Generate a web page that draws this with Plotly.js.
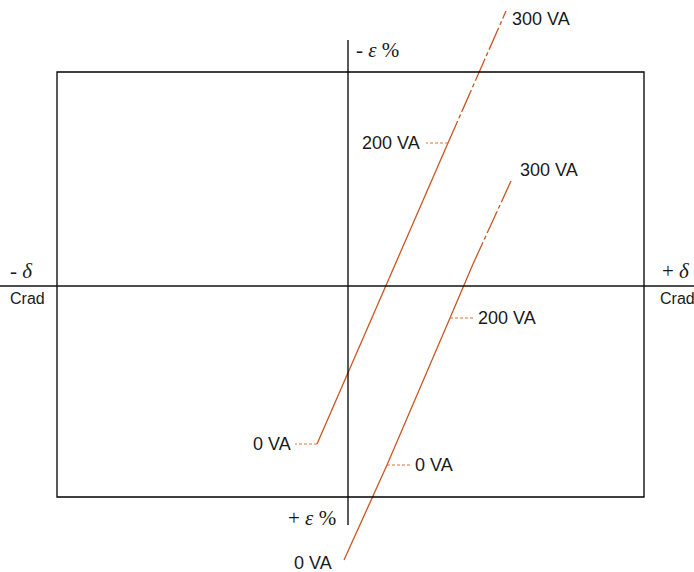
<!DOCTYPE html>
<html>
<head>
<meta charset="utf-8">
<script src="https://cdn.plot.ly/plotly-3.0.1.min.js"></script>
<style>html,body{margin:0;padding:0;background:#fff;}#chart{width:694px;height:572px;}</style>
</head>
<body>
<div id="chart"></div>
<script>
// Characteristic curves (δ offset, ε offset) in chart units
const line1Delta = [-31, 100, 158];
const line1Eps   = [-158, 143, 275];
const line1Labels = ["0 VA", "200 VA", "300 VA"];

const line2Delta = [-4, 39, 102, 125, 163];
const line2Eps   = [-274, -179, -32, 22, 105];
const line2Labels = ["0 VA", "0 VA", "200 VA", "", "300 VA"];

// Frame (rectangle) and axis extents
const frameDelta = [-291, 296];
const frameEps = [-211, 214];
const axisEpsExtent = [-239, 246];
const xRange = [-348, 346];
const yRange = [-286, 286];

const ORANGE = "#c9561f";
const LEADER = "#d8703c";
const TXT = "#1a1a1a";
const DASH = "24px,3px,4px,3px";

const traces = [
  {x: line1Delta.slice(0, 2), y: line1Eps.slice(0, 2), mode: "lines", line: {color: ORANGE, width: 1.3}, hoverinfo: "skip"},
  {x: line1Delta.slice(1), y: line1Eps.slice(1), mode: "lines", line: {color: ORANGE, width: 1.3, dash: DASH}, hoverinfo: "skip"},
  {x: line2Delta.slice(0, 4), y: line2Eps.slice(0, 4), mode: "lines", line: {color: ORANGE, width: 1.3}, hoverinfo: "skip"},
  {x: line2Delta.slice(3), y: line2Eps.slice(3), mode: "lines", line: {color: ORANGE, width: 1.3, dash: DASH}, hoverinfo: "skip"}
];

const shapes = [
  {type: "rect", xref: "x", yref: "y", x0: frameDelta[0], x1: frameDelta[1], y0: frameEps[0], y1: frameEps[1], line: {color: "#000", width: 1.3}},
  {type: "line", xref: "x", yref: "y", x0: 0, x1: 0, y0: axisEpsExtent[0], y1: axisEpsExtent[1], line: {color: "#000", width: 1.3}},
  {type: "line", xref: "x", yref: "y", x0: xRange[0], x1: xRange[1], y0: 0, y1: 0, line: {color: "#111", width: 1.3}}
];

// leader lines: [x, y, length(sign gives direction)]
const leaders = [
  [line1Delta[0], line1Eps[0], -22],
  [line1Delta[1], line1Eps[1], -22],
  [line2Delta[1], line2Eps[1], 25],
  [line2Delta[2], line2Eps[2], 25]
];
leaders.forEach(l => shapes.push({type: "line", xref: "x", yref: "y", x0: l[0], x1: l[0] + l[2], y0: l[1], y1: l[1], line: {color: LEADER, width: 1, dash: "3px,2px"}}));

const f = {family: "Liberation Sans, Arial, sans-serif", size: 18, color: TXT};
const annotations = [
  {x: line1Delta[0], y: line1Eps[0], text: line1Labels[0], xanchor: "right", xshift: -24},
  {x: line1Delta[1], y: line1Eps[1], text: line1Labels[1], xanchor: "right", xshift: -26},
  {x: line1Delta[2], y: line1Eps[2], text: line1Labels[2], xanchor: "left", xshift: 4, yshift: -8},
  {x: line2Delta[0], y: line2Eps[0], text: line2Labels[0], xanchor: "right", xshift: -10, yshift: -3},
  {x: line2Delta[1], y: line2Eps[1], text: line2Labels[1], xanchor: "left", xshift: 26},
  {x: line2Delta[2], y: line2Eps[2], text: line2Labels[2], xanchor: "left", xshift: 26},
  {x: line2Delta[4], y: line2Eps[4], text: line2Labels[4], xanchor: "left", xshift: 7, yshift: 11}
].map(a => Object.assign({xref: "x", yref: "y", showarrow: false, yanchor: "middle", font: f}, a));

const serif = {family: "Liberation Serif, Times New Roman, serif", size: 21, color: TXT};
const small = {family: "Liberation Sans, Arial, sans-serif", size: 16, color: TXT};
annotations.push(
  {xref: "paper", yref: "y", x: 0, y: 0, xanchor: "left", yanchor: "bottom", xshift: 8, yshift: 1, text: "- <i>δ</i>", showarrow: false, font: serif},
  {xref: "paper", yref: "y", x: 0, y: 0, xanchor: "left", yanchor: "top", xshift: 8, yshift: -2, text: "Crad", showarrow: false, font: small},
  {xref: "paper", yref: "y", x: 1, y: 0, xanchor: "right", yanchor: "bottom", xshift: -2, yshift: 1, text: "+ <i>δ</i>", showarrow: false, font: serif},
  {xref: "paper", yref: "y", x: 1, y: 0, xanchor: "right", yanchor: "top", xshift: 3, yshift: -2, text: "Crad", showarrow: false, font: small},
  {xref: "x", yref: "y", x: 0, y: axisEpsExtent[1], xanchor: "left", yanchor: "top", xshift: 6, yshift: 4, text: "- <i>ε</i> %", showarrow: false, font: serif},
  {xref: "x", yref: "y", x: 0, y: axisEpsExtent[0], xanchor: "right", yanchor: "bottom", xshift: -10, yshift: -7, text: "+ <i>ε</i> %", showarrow: false, font: serif}
);

const layout = {
  width: 694, height: 572,
  margin: {l: 0, r: 0, t: 0, b: 0},
  paper_bgcolor: "#fff", plot_bgcolor: "#fff",
  showlegend: false,
  xaxis: {range: xRange, visible: false, fixedrange: true},
  yaxis: {range: yRange, visible: false, fixedrange: true},
  shapes: shapes,
  annotations: annotations
};

Plotly.newPlot("chart", traces, layout, {displayModeBar: false, staticPlot: true});
</script>
</body>
</html>
